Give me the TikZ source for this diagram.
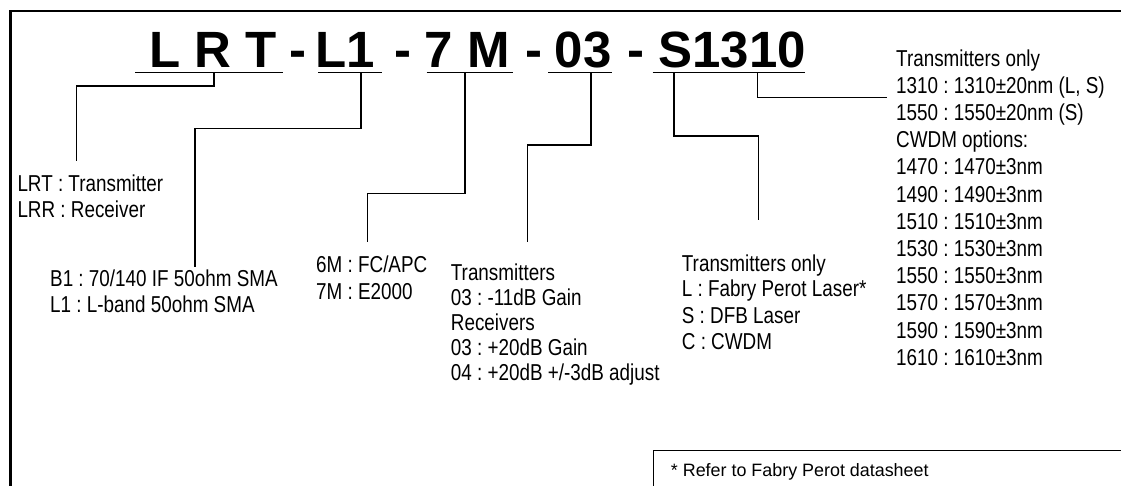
\documentclass[tikz,border=0pt]{standalone}
\usepackage{fontspec}
\setmainfont{Liberation Sans}[FakeStretch=0.82]
\newfontfamily\titlefont{Liberation Sans}
\newfontfamily\notefont{Liberation Sans}
\frenchspacing
\begin{document}
\begin{tikzpicture}[x=1pt,y=-1pt,
  lbl/.style={font=\fontsize{23}{27}\selectfont, inner sep=0pt, anchor=base west},
  ttl/.style={font=\titlefont\bfseries\fontsize{51}{60}\selectfont, inner sep=0pt, anchor=base},
  note/.style={font=\notefont\fontsize{17.9}{21}\selectfont, inner sep=0pt, anchor=base west},
  uline/.style={line width=1.3pt},
  conn/.style={line width=1.2pt},
  frameline/.style={line width=2.5pt},
  boxline/.style={line width=1.3pt}]
\useasboundingbox (0,0) rectangle (1121,485);
\fill[white] (0,0) rectangle (1121,485);

% outer frame (only top and left visible)
\coordinate (fr1) at (1130,11);
\coordinate (fr2) at (10.3,11);
\coordinate (fr3) at (10.3,495);
\draw[frameline] (fr1) -- (fr2) -- (fr3);

% title
\node[ttl] (t1) at (212.9,67.3) {L R T};
\node[ttl] (d1) at (298.3,67.3) {-};
\node[ttl] (t2) at (345.3,67.3) {L1};
\node[ttl] (d2) at (403.3,67.3) {-};
\node[ttl] (t3) at (467.3,67.3) {7 M};
\node[ttl] (d3) at (533.5,67.3) {-};
\node[ttl] (t4) at (583.3,67.3) {03};
\node[ttl] (d4) at (635.8,67.3) {-};
\node[ttl] (t5) at (732,67.3) {S1310};

% underlines
\coordinate (u1a) at (135,72.3);   \coordinate (u1b) at (282.7,72.3);
\coordinate (u2a) at (318,72.3);   \coordinate (u2b) at (381.7,72.3);
\coordinate (u3a) at (426.7,72.3); \coordinate (u3b) at (512.7,72.3);
\coordinate (u4a) at (548.3,72.3); \coordinate (u4b) at (611.7,72.3);
\coordinate (u5a) at (652.7,72.3); \coordinate (u5b) at (805,72.3);
\draw[uline] (u1a) -- (u1b);
\draw[uline] (u2a) -- (u2b);
\draw[uline] (u3a) -- (u3b);
\draw[uline] (u4a) -- (u4b);
\draw[uline] (u5a) -- (u5b);

% text blocks
\node[lbl] (a1) at (17.3,191) {LRT : Transmitter};
\node[lbl] (a2) at (17.3,217.3) {LRR : Receiver};

\node[lbl] (b1) at (50,286.7) {B1 : 70/140 IF 50ohm SMA};
\node[lbl] (b2) at (50,312.7) {L1 : L-band 50ohm SMA};

\node[lbl] (m1) at (316,272.3) {6M : FC/APC};
\node[lbl] (m2) at (316,299.3) {7M : E2000};

\node[lbl] (g1) at (450.7,280) {Transmitters};
\node[lbl] (g2) at (450.7,305.5) {03 : -11dB Gain};
\node[lbl] (g3) at (450.7,330.7) {Receivers};
\node[lbl] (g4) at (450.7,355.7) {03 : +20dB Gain};
\node[lbl] (g5) at (450.7,380) {04 : +20dB +/-3dB adjust};

\node[lbl] (s1) at (681.7,271) {Transmitters only};
\node[lbl] (s2) at (681.7,296.5) {L : Fabry Perot Laser*};
\node[lbl] (s3) at (681.7,323) {S : DFB Laser};
\node[lbl] (s4) at (681.7,349.5) {C : CWDM};

\node[lbl] (r1)  at (896,66)    {Transmitters only};
\node[lbl] (r2)  at (896,93.2)  {1310 : 1310±20nm (L, S)};
\node[lbl] (r3)  at (896,120.4) {1550 : 1550±20nm (S)};
\node[lbl] (r4)  at (896,147.6) {CWDM options:};
\node[lbl] (r5)  at (896,174.8) {1470 : 1470±3nm};
\node[lbl] (r6)  at (896,202)   {1490 : 1490±3nm};
\node[lbl] (r7)  at (896,229.2) {1510 : 1510±3nm};
\node[lbl] (r8)  at (896,256.4) {1530 : 1530±3nm};
\node[lbl] (r9)  at (896,283.6) {1550 : 1550±3nm};
\node[lbl] (r10) at (896,310.8) {1570 : 1570±3nm};
\node[lbl] (r11) at (896,338)   {1590 : 1590±3nm};
\node[lbl] (r12) at (896,365.2) {1610 : 1610±3nm};

% connectors
\coordinate (c1s) at (214,72.3);   \coordinate (c1k) at (214,86);    \coordinate (c1e) at (76.7,161);
\coordinate (c2s) at (361,72.3);   \coordinate (c2k) at (361,128.3); \coordinate (c2e) at (195,266.7);
\coordinate (c3s) at (465,72.3);   \coordinate (c3k) at (465,193.3); \coordinate (c3e) at (367.7,241.7);
\coordinate (c4s) at (591,72.3);   \coordinate (c4k) at (591,145);   \coordinate (c4e) at (527.7,241.7);
\coordinate (c5s) at (674,72.3);   \coordinate (c5k) at (674,136);   \coordinate (c5e) at (758.3,220);
\coordinate (c6s) at (757.5,72.3); \coordinate (c6k) at (757.5,97.3); \coordinate (c6e) at (886.7,97.3);
\draw[conn] (c1s) -- (c1k) -| (c1e);
\draw[conn] (c2s) -- (c2k) -| (c2e);
\draw[conn] (c3s) -- (c3k) -| (c3e);
\draw[conn] (c4s) -- (c4k) -| (c4e);
\draw[conn] (c5s) -- (c5k) -| (c5e);
\draw[conn] (c6s) -- (c6k) -- (c6e);

% footnote box
\coordinate (fb1) at (1130,450.7);
\coordinate (fb2) at (653.3,450.7);
\coordinate (fb3) at (653.3,495);
\draw[boxline] (fb1) -- (fb2) -- (fb3);
\node[note] (fn) at (670.7,476.7) {* Refer to Fabry Perot datasheet};
\end{tikzpicture}
\end{document}
